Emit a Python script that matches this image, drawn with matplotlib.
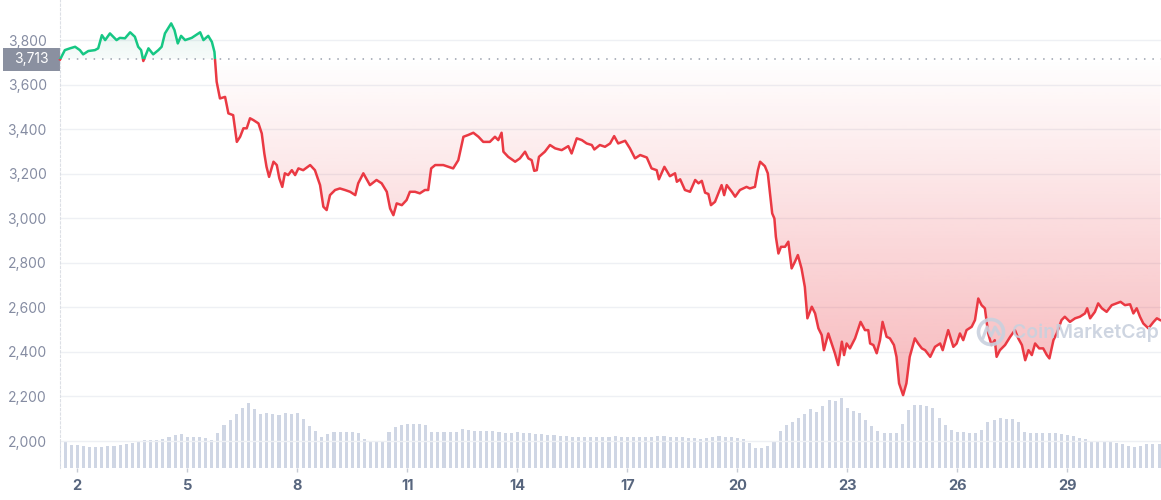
import numpy as np
import matplotlib.pyplot as plt
from matplotlib.patches import Rectangle, Circle
from matplotlib.lines import Line2D
from matplotlib.transforms import IdentityTransform
from matplotlib.colors import to_rgb

plt.rcParams['font.family'] = ['Inter', 'DejaVu Sans']

# price line, x = day of month, y = USD
days = [1.53, 1.66, 1.80, 1.94, 2.07, 2.16, 2.30, 2.48, 2.57, 2.67,
        2.76, 2.89, 3.07, 3.16, 3.30, 3.44, 3.57, 3.66, 3.74, 3.80,
        3.94, 4.07, 4.21, 4.30, 4.39, 4.56, 4.65, 4.74, 4.83, 4.94,
        5.12, 5.35, 5.44, 5.57, 5.67, 5.74, 5.76, 5.80, 5.89, 6.03,
        6.12, 6.25, 6.35, 6.44, 6.53, 6.62, 6.71, 6.80, 6.94, 7.03,
        7.10, 7.16, 7.23, 7.35, 7.44, 7.51, 7.59, 7.66, 7.75, 7.85,
        7.94, 8.03, 8.16, 8.35, 8.48, 8.62, 8.71, 8.80, 8.89, 9.03,
        9.16, 9.30, 9.44, 9.58, 9.66, 9.80, 9.98, 10.16, 10.30, 10.44,
        10.53, 10.62, 10.71, 10.85, 10.98, 11.07, 11.21, 11.34, 11.48, 11.57,
        11.65, 11.76, 11.98, 12.25, 12.39, 12.53, 12.66, 12.80, 12.94, 13.07,
        13.25, 13.39, 13.48, 13.57, 13.62, 13.75, 13.94, 14.07, 14.21, 14.30,
        14.39, 14.46, 14.53, 14.59, 14.75, 14.89, 15.03, 15.21, 15.39, 15.48,
        15.62, 15.76, 15.89, 16.03, 16.10, 16.25, 16.39, 16.53, 16.64, 16.75,
        16.94, 17.07, 17.21, 17.35, 17.53, 17.66, 17.80, 17.86, 18.01, 18.16,
        18.30, 18.35, 18.44, 18.57, 18.71, 18.85, 18.94, 19.03, 19.12, 19.21,
        19.28, 19.39, 19.48, 19.57, 19.64, 19.71, 19.85, 19.94, 20.07, 20.25,
        20.34, 20.48, 20.56, 20.62, 20.75, 20.83, 20.89, 20.95, 21.01, 21.05,
        21.12, 21.19, 21.30, 21.39, 21.48, 21.57, 21.65, 21.75, 21.84, 21.91,
        22.03, 22.12, 22.21, 22.30, 22.36, 22.48, 22.57, 22.66, 22.75, 22.85,
        22.91, 22.98, 23.07, 23.21, 23.36, 23.48, 23.57, 23.62, 23.71, 23.80,
        23.89, 23.96, 24.07, 24.16, 24.27, 24.34, 24.41, 24.52, 24.61, 24.70,
        24.84, 24.93, 25.03, 25.12, 25.26, 25.39, 25.53, 25.60, 25.75, 25.89,
        25.98, 26.07, 26.16, 26.25, 26.39, 26.48, 26.57, 26.66, 26.75, 26.84,
        26.93, 27.02, 27.07, 27.16, 27.30, 27.44, 27.57, 27.66, 27.76, 27.85,
        27.94, 28.03, 28.12, 28.23, 28.34, 28.44, 28.51, 28.62, 28.71, 28.84,
        28.93, 29.07, 29.21, 29.34, 29.48, 29.54, 29.62, 29.75, 29.84, 29.94,
        30.07, 30.21, 30.34, 30.45, 30.57, 30.71, 30.80, 30.89, 30.98, 31.07,
        31.21, 31.35, 31.44, 31.53]

prices = [3713, 3755, 3763, 3770, 3755, 3736, 3751, 3755, 3763, 3822,
          3800, 3830, 3800, 3810, 3808, 3835, 3815, 3770, 3755, 3706,
          3763, 3736, 3755, 3770, 3830, 3875, 3845, 3785, 3819, 3800,
          3810, 3835, 3800, 3819, 3792, 3747, 3703, 3613, 3538, 3545,
          3471, 3463, 3343, 3366, 3404, 3404, 3449, 3441, 3426, 3381,
          3291, 3231, 3186, 3254, 3239, 3179, 3141, 3202, 3194, 3216,
          3194, 3224, 3216, 3239, 3216, 3149, 3052, 3037, 3104, 3127,
          3134, 3127, 3119, 3104, 3157, 3202, 3149, 3172, 3157, 3119,
          3044, 3014, 3067, 3059, 3082, 3119, 3119, 3112, 3127, 3127,
          3224, 3239, 3239, 3224, 3261, 3366, 3374, 3384, 3366, 3343,
          3343, 3366, 3351, 3384, 3299, 3276, 3254, 3269, 3299, 3269,
          3261, 3213, 3216, 3276, 3299, 3329, 3314, 3306, 3324, 3291,
          3359, 3351, 3336, 3329, 3309, 3329, 3321, 3336, 3369, 3336,
          3348, 3314, 3269, 3284, 3273, 3224, 3216, 3175, 3231, 3189,
          3202, 3164, 3175, 3127, 3119, 3172, 3157, 3168, 3115, 3109,
          3059, 3074, 3112, 3149, 3104, 3149, 3119, 3097, 3127, 3141,
          3134, 3141, 3216, 3254, 3234, 3202, 3112, 3022, 2999, 2917,
          2842, 2872, 2872, 2895, 2775, 2805, 2835, 2775, 2692, 2551,
          2603, 2573, 2506, 2476, 2408, 2483, 2438, 2394, 2341, 2446,
          2386, 2438, 2416, 2461, 2535, 2498, 2498, 2438, 2431, 2394,
          2453, 2535, 2468, 2461, 2431, 2378, 2259, 2206, 2259, 2378,
          2461, 2438, 2416, 2408, 2378, 2423, 2438, 2408, 2498, 2423,
          2438, 2483, 2453, 2498, 2513, 2543, 2640, 2610, 2596, 2483,
          2431, 2453, 2378, 2408, 2431, 2468, 2498, 2461, 2431, 2363,
          2408, 2386, 2438, 2416, 2416, 2386, 2371, 2453, 2483, 2543,
          2558, 2535, 2551, 2558, 2573, 2596, 2551, 2580, 2618, 2596,
          2580, 2610, 2618, 2625, 2610, 2614, 2573, 2596, 2558, 2528,
          2506, 2535, 2551, 2543]

base_price = 3713

# volume (bn USD), one bar every 4 hours starting at day 1.5
vol_start = 1.5
vol_step = 1 / 6
volumes = [13.7, 13.0, 11.5, 11.3, 11.0, 10.7, 10.4, 10.6, 10.9, 11.2,
           11.5, 11.9, 12.5, 13.3, 13.8, 14.0, 14.2, 14.4, 15.5, 16.4,
           16.8, 15.7, 15.5, 15.4, 14.8, 14.2, 17.5, 21.3, 23.8, 26.8,
           30.0, 32.5, 29.5, 27.0, 27.5, 27.0, 26.3, 27.3, 27.0, 27.3,
           24.5, 20.8, 18.3, 15.5, 16.8, 18.0, 18.2, 18.2, 18.2, 17.5,
           14.5, 13.7, 13.7, 13.7, 18.0, 20.5, 21.5, 21.8, 21.8, 22.0,
           21.5, 18.0, 17.8, 17.8, 17.8, 18.0, 19.5, 19.0, 18.5, 18.5,
           18.3, 18.3, 18.0, 17.5, 17.5, 17.8, 17.5, 17.3, 17.0, 16.8,
           16.5, 16.3, 16.0, 15.8, 15.5, 15.5, 15.5, 15.5, 15.5, 15.5,
           15.5, 15.8, 15.5, 15.3, 15.5, 15.5, 15.3, 15.5, 15.8, 15.8,
           15.5, 15.5, 15.3, 15.0, 14.8, 14.5, 15.0, 15.4, 15.9, 15.6,
           15.3, 14.9, 14.3, 12.5, 10.2, 10.2, 10.8, 13.0, 18.5, 21.3,
           23.0, 25.0, 27.0, 29.5, 28.0, 31.0, 34.0, 33.7, 35.0, 29.8,
           28.5, 27.4, 24.0, 20.8, 18.3, 17.7, 17.7, 17.7, 22.0, 28.8,
           31.5, 31.5, 31.0, 29.9, 25.0, 21.3, 18.8, 18.0, 17.8, 17.5,
           17.4, 19.0, 22.8, 23.8, 24.9, 24.5, 24.4, 23.0, 18.2, 17.5,
           17.5, 17.5, 17.6, 17.5, 16.9, 16.4, 15.8, 15.2, 14.4, 13.3,
           13.1, 12.9, 12.8, 12.7, 11.8, 10.8, 10.7, 10.8, 11.9, 11.9,
           11.9]

y_ticks = [2000, 2200, 2400, 2600, 2800, 3000, 3200, 3400, 3600, 3800]
x_ticks = [2, 5, 8, 11, 14, 17, 20, 23, 26, 29]

GREEN = '#16c784'
RED = '#ea3943'

fig = plt.figure(figsize=(11.61, 5), dpi=100)
ax = fig.add_axes([60 / 1161, 32 / 500, 1101 / 1161, 468 / 500])
axv = ax.twinx()
ax.set_zorder(axv.get_zorder() + 1)
ax.patch.set_visible(False)

# volume bars at the bottom
vol_x = vol_start + vol_step * np.arange(len(volumes))
axv.bar(vol_x, volumes, width=vol_step * 0.5, color='#cfd6e4', linewidth=0)
axv.set_ylim(0, 234)
axv.axis('off')

x = np.array(days)
y = np.array(prices)
x0, x1 = 1.528, 31.553

# gradient fills between line and the opening price
lo = np.minimum(y, base_price)
poly_r = ax.fill_between(x, lo, base_price, color='none', lw=0)
grad = np.zeros((256, 1, 4))
grad[..., :3] = to_rgb(RED)
grad[:, 0, 3] = np.linspace(0.36, 0.0, 256)
im = ax.imshow(grad, extent=[x0, x1, 2200, base_price], origin='lower',
               aspect='auto', zorder=1, interpolation='bilinear')
im.set_clip_path(poly_r.get_paths()[0], transform=ax.transData)

hi = np.maximum(y, base_price)
poly_g = ax.fill_between(x, base_price, hi, color='none', lw=0)
grad_g = np.zeros((256, 1, 4))
grad_g[..., :3] = to_rgb('#7fc6b0')
grad_g[:, 0, 3] = np.linspace(0.06, 0.2, 256)
im_g = ax.imshow(grad_g, extent=[x0, x1, base_price, 3880], origin='lower',
                 aspect='auto', zorder=1, interpolation='bilinear')
im_g.set_clip_path(poly_g.get_paths()[0], transform=ax.transData)

# grid
for t in y_ticks:
    ax.axhline(t, color='#eef0f4', lw=1, zorder=0)
ax.axhline(base_price, color='#9aa1ad', lw=1.1, ls=(0, (1, 4.5)), zorder=2)

# price line: green above opening price, red below
l_up, = ax.plot(x, y, color=GREEN, lw=1.8, zorder=4, solid_joinstyle='round')
l_up.set_clip_path(Rectangle((0, base_price), 40, 3000, transform=ax.transData))
l_dn, = ax.plot(x, y, color=RED, lw=1.8, zorder=4, solid_joinstyle='round')
l_dn.set_clip_path(Rectangle((0, 0), 40, base_price, transform=ax.transData))

ax.set_xlim(x0, x1)
ax.set_ylim(1879, 3980)

for s in ['top', 'right', 'bottom']:
    ax.spines[s].set_visible(False)
ax.spines['left'].set_color('#dcdfe5')
ax.spines['left'].set_linestyle((0, (2, 2)))

ax.set_yticks(y_ticks)
ax.set_yticklabels([f'{t:,}' for t in y_ticks])
ax.tick_params(axis='y', length=0, pad=9.5, labelsize=10, labelcolor='#858ca2')
ax.set_xticks(x_ticks)
ax.set_xticklabels([str(t) for t in x_ticks], fontweight='bold')
ax.tick_params(axis='x', length=3, width=1, color='#c5cad3', pad=5,
               labelsize=10.5, labelcolor='#58667e')

# opening price badge
fig.add_artist(Rectangle((3 / 1161, 1 - 71 / 500), 57 / 1161, 23 / 500,
                         transform=fig.transFigure, color='#8a90a0', lw=0))
fig.text(31.5 / 1161, 1 - 59.5 / 500, f'{base_price:,}', color='white',
         fontsize=10, ha='center', va='center')

# watermark
wm = '#c9d1de'
fig.add_artist(Circle((991, 500 - 332), 12.5, transform=IdentityTransform(),
                      fill=False, lw=2.6, ec=wm, alpha=0.9, zorder=3))
fig.add_artist(Line2D([983, 987, 991, 995, 999], [162, 173, 164, 173, 166],
                      transform=IdentityTransform(), color=wm, lw=2.2,
                      alpha=0.9, zorder=3))
fig.text(1085 / 1161, 1 - 333 / 500, 'CoinMarketCap', color=wm, fontsize=14,
         fontweight='semibold', ha='center', va='center', alpha=0.9, zorder=3)

fig.savefig('out.png', dpi=100)
